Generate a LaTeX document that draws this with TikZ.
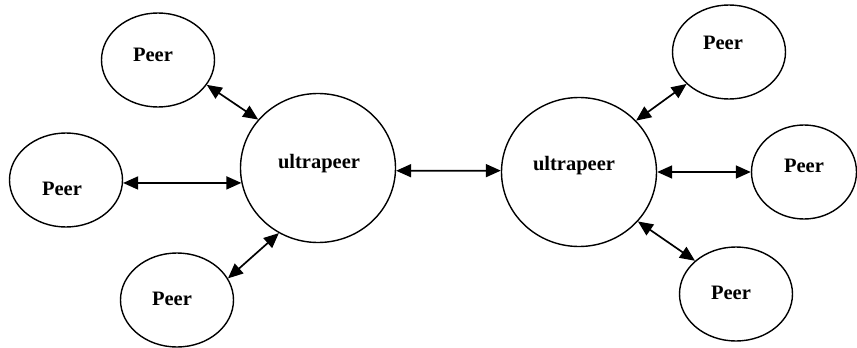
\documentclass[tikz,border=0pt]{standalone}
\usepackage{fontspec}
\setmainfont{Liberation Serif}
\usetikzlibrary{shapes.geometric,arrows.meta}
\begin{document}
\begin{tikzpicture}[x=1pt,y=-1pt,
  peer/.style={draw,ellipse,line width=1.4pt,inner sep=0pt,minimum width=113pt,minimum height=94pt},
  ultra/.style={draw,ellipse,line width=1.4pt,inner sep=0pt,minimum width=155pt,minimum height=149pt},
  lbl/.style={font=\fontsize{20.5}{24}\selectfont\bfseries},
  link/.style={line width=1.7pt,{Triangle[length=15pt,width=13pt]}-{Triangle[length=15pt,width=13pt]}}]
\useasboundingbox (0,0) rectangle (857,348);
\node[ultra,label={[lbl,xshift=1pt,yshift=4pt]center:ultrapeer}] (u1) at (318,168) {};
\node[ultra,label={[lbl,xshift=-5pt,yshift=6pt]center:ultrapeer}] (u2) at (579,172) {};
\node[peer,label={[lbl,xshift=-5pt,yshift=5pt]center:Peer}] (p1) at (158,60) {};
\node[peer,label={[lbl,xshift=-4pt,yshift=-9pt]center:Peer}] (p2) at (66,180) {};
\node[peer,label={[lbl,xshift=-5pt,yshift=1pt]center:Peer}] (p3) at (177,300) {};
\node[peer,label={[lbl,xshift=-6pt,yshift=9pt]center:Peer}] (p4) at (729,52) {};
\node[peer,minimum width=105pt,label={[lbl,xshift=0pt,yshift=6pt]center:Peer}] (p5) at (804,172) {};
\node[peer,label={[lbl,xshift=-5pt,yshift=1pt]center:Peer}] (p6) at (736,294) {};
\draw[link] (p1.-27) -- (u1.141);
\draw[link] (p2.-3) -- (u1.-169);
\draw[link] (p3.23) -- (u1.-121);
\draw[link] (u1.-2) -- (u2.179);
\draw[link] (u2.42) -- (p4.217);
\draw[link] (u2.0) -- (p5.180);
\draw[link] (u2.-40) -- (p6.141);
\end{tikzpicture}
\end{document}
